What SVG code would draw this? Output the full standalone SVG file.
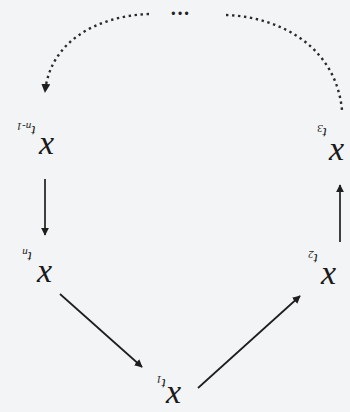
<svg xmlns="http://www.w3.org/2000/svg" width="350" height="412" viewBox="0 0 350 412">
<style>
.x{font-family:"Liberation Serif",serif;font-style:italic;font-size:34px;fill:#1a1a1a}
.s{font-family:"Liberation Serif",serif;font-style:italic;font-size:15px;fill:#1a1a1a}
.sub{font-size:11px}
.ln{stroke:#1e1e1e;stroke-width:1.7;fill:none}
.dt{stroke:#2a2a2a;stroke-width:2.4;fill:none;stroke-dasharray:2.4 3.6}
</style>
<defs>
<marker id="ah" viewBox="0 0 10 10" refX="9" refY="5" markerWidth="8" markerHeight="8" markerUnits="userSpaceOnUse" orient="auto"><path d="M0,0 L10,5 L0,10 z" fill="#1e1e1e"/></marker>
<marker id="ah2" viewBox="0 0 10 10" refX="9" refY="5" markerWidth="9" markerHeight="9" markerUnits="userSpaceOnUse" orient="auto"><path d="M0,0 L10,5 L0,10 z" fill="#1e1e1e"/></marker>
</defs>
<rect width="350" height="412" fill="#f3f4f6"/>
<g id="connectors">
<path class="dt" d="M149,14 C96,16 50,42 45,92" marker-end="url(#ah2)"/>
<path class="dt" d="M226,15 C282,17 336,48 342,110"/>
<line class="ln" x1="45" y1="179" x2="45" y2="235" marker-end="url(#ah)"/>
<line class="ln" x1="60" y1="294" x2="142" y2="367" marker-end="url(#ah)"/>
<line class="ln" x1="198" y1="388" x2="300" y2="296" marker-end="url(#ah)"/>
<line class="ln" x1="340" y1="242" x2="340" y2="185" marker-end="url(#ah)"/>
</g>
<g id="ellipsis"><text x="180" y="20" text-anchor="middle" style="font-family:'Liberation Serif',serif;font-size:20px;font-weight:bold;fill:#222">···</text></g>
<g id="n_t1">
<text class="x" x="166" y="403">x</text>
<text class="s" x="161" y="387" text-anchor="middle" transform="rotate(180 161 383)">t<tspan class="sub" dy="3">1</tspan></text>
</g>
<g id="n_t2">
<text class="x" x="321" y="284">x</text>
<text class="s" x="313" y="262" text-anchor="middle" transform="rotate(180 313 258)">t<tspan class="sub" dy="3">2</tspan></text>
</g>
<g id="n_t3">
<text class="x" x="329" y="160">x</text>
<text class="s" x="322" y="136" text-anchor="middle" transform="rotate(180 322 132)">t<tspan class="sub" dy="3">3</tspan></text>
</g>
<g id="n_tn">
<text class="x" x="37" y="282">x</text>
<text class="s" x="27" y="260" text-anchor="middle" transform="rotate(180 27 256)">t<tspan class="sub" dy="3">n</tspan></text>
</g>
<g id="n_tn1">
<text class="x" x="39" y="154">x</text>
<text class="s" x="26" y="134" text-anchor="middle" transform="rotate(180 26 130)">t<tspan class="sub" dy="3">n-1</tspan></text>
</g>
</svg>
